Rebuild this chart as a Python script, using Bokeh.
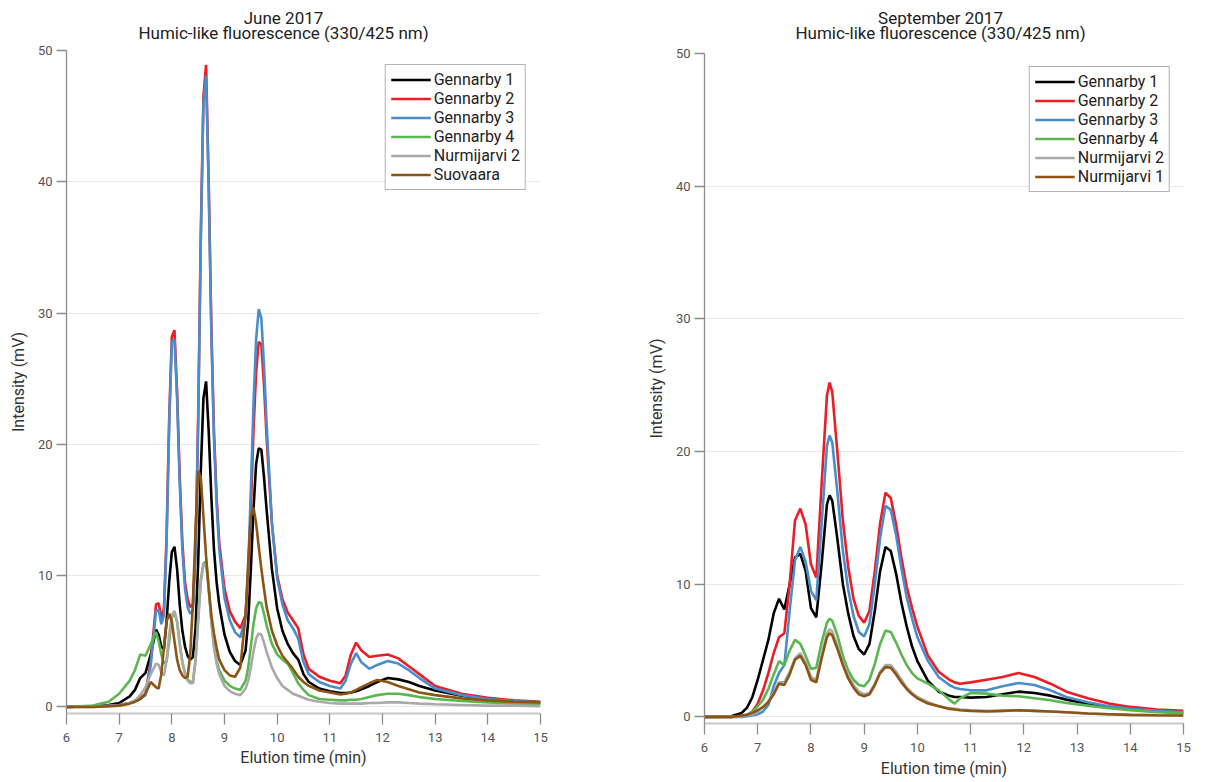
from bokeh.plotting import figure
from bokeh.layouts import row, column
from bokeh.models import Range1d, FixedTicker
from bokeh.core.properties import value
from bokeh.embed import file_html
from bokeh.resources import INLINE

FONT = "Roboto"

# ---------------- data: June 2017 ----------------
june_t = [6.0, 6.5, 6.8, 7.0, 7.2, 7.3, 7.4, 7.5, 7.6, 7.7,
          7.75, 7.8, 7.85, 7.9, 7.95, 8.0, 8.05, 8.1, 8.15, 8.2,
          8.25, 8.3, 8.35, 8.4, 8.45, 8.5, 8.55, 8.6, 8.65, 8.7,
          8.75, 8.8, 8.85, 8.9, 9.0, 9.1, 9.2, 9.3, 9.4, 9.45,
          9.5, 9.55, 9.6, 9.65, 9.7, 9.75, 9.8, 9.9, 10.0, 10.1,
          10.2, 10.3, 10.4, 10.5, 10.6, 10.8, 11.0, 11.2, 11.3, 11.4,
          11.5, 11.6, 11.75, 11.9, 12.1, 12.3, 12.5, 12.7, 13.0, 13.5,
          14.0, 14.5, 15.0]

june_gennarby1 = [0, 0.05, 0.15, 0.3, 0.8, 1.3, 2.2, 2.6, 4.0, 5.9,
                  5.5, 4.6, 4.4, 6.5, 9.5, 11.8, 12.2, 10.5, 7.8, 5.8,
                  4.6, 3.9, 3.6, 3.8, 6.0, 11, 18, 23.5, 24.8, 21,
                  16, 12, 9.5, 7.8, 5.5, 4.2, 3.5, 3.2, 4.3, 6.5,
                  10.5, 15, 18.5, 19.7, 19.6, 17.5, 15, 10.5, 7.5, 5.8,
                  4.8, 4.1, 3.6, 2.5, 1.9, 1.4, 1.2, 1.05, 1.05, 1.1,
                  1.2, 1.35, 1.6, 1.9, 2.2, 2.1, 1.9, 1.6, 1.25, 0.85,
                  0.6, 0.4, 0.3]
june_gennarby2 = [0, 0.05, 0.1, 0.15, 0.3, 0.45, 0.7, 1.0, 3.5, 7.8,
                  7.9, 6.8, 7.5, 13, 22, 28.2, 28.7, 24, 17.5, 12.5,
                  9.5, 8.2, 7.6, 7.8, 12, 22, 36, 46.5, 48.9, 40,
                  29, 21, 16, 12.5, 9.0, 7.3, 6.5, 6.0, 7.0, 10,
                  15, 21, 25.5, 27.8, 27.6, 24.5, 20.5, 14, 10, 8.2,
                  7.2, 6.6, 6.0, 4.0, 2.9, 2.3, 2.0, 1.8, 2.4, 4.0,
                  4.9, 4.3, 3.8, 3.9, 4.0, 3.7, 3.1, 2.5, 1.6, 1.0,
                  0.7, 0.5, 0.4]
june_gennarby3 = [0, 0.05, 0.1, 0.15, 0.3, 0.4, 0.6, 0.9, 3.2, 7.3,
                  7.4, 6.3, 7.0, 12.5, 21.5, 27.8, 28.0, 23.5, 17, 12,
                  9.0, 7.6, 7.1, 7.3, 11.5, 21.5, 35.5, 46, 48.1, 39.5,
                  28.5, 20.5, 15.5, 12, 8.3, 6.6, 5.7, 5.3, 6.8, 10.5,
                  16.5, 23, 28, 30.3, 29.6, 26, 21.5, 14, 9.8, 7.8,
                  6.6, 6.0, 5.2, 3.4, 2.5, 1.9, 1.6, 1.4, 2.0, 3.3,
                  4.1, 3.4, 2.9, 3.2, 3.5, 3.3, 2.8, 2.2, 1.4, 0.9,
                  0.6, 0.45, 0.35]
june_gennarby4 = [0, 0.1, 0.4, 1.0, 2.0, 2.8, 4.0, 3.9, 4.8, 5.7,
                  5.0, 4.0, 3.3, 3.5, 5.0, 6.8, 7.2, 6.5, 4.8, 3.4,
                  2.6, 2.1, 1.9, 1.9, 3.6, 6.8, 9.7, 10.9, 11.1, 9.2,
                  6.6, 4.7, 3.5, 2.8, 2.0, 1.6, 1.4, 1.3, 2.0, 3.0,
                  4.6, 6.3, 7.5, 8.0, 7.9, 7.1, 6.2, 4.8, 4.0, 3.6,
                  3.3, 2.6, 1.8, 1.3, 0.9, 0.6, 0.55, 0.5, 0.5, 0.55,
                  0.55, 0.6, 0.75, 0.9, 1.0, 1.0, 0.9, 0.75, 0.6, 0.45,
                  0.35, 0.25, 0.2]
june_nurmijarvi2 = [0, 0, 0.05, 0.1, 0.3, 0.5, 0.9, 1.5, 2.5, 3.3,
                    3.2, 2.6, 2.4, 3.5, 5.5, 7.0, 7.3, 6.5, 4.8, 3.4,
                    2.5, 2.0, 1.8, 1.8, 3.5, 6.5, 9.5, 10.8, 10.9, 9.0,
                    6.5, 4.5, 3.3, 2.5, 1.6, 1.2, 1.0, 0.9, 1.4, 2.0,
                    3.0, 4.2, 5.2, 5.6, 5.5, 4.9, 4.2, 3.0, 2.2, 1.6,
                    1.3, 1.0, 0.85, 0.7, 0.55, 0.4, 0.3, 0.25, 0.25, 0.25,
                    0.25, 0.25, 0.3, 0.3, 0.35, 0.35, 0.3, 0.25, 0.2, 0.15,
                    0.1, 0.1, 0.05]
june_suovaara = [0, 0, 0.05, 0.1, 0.25, 0.4, 0.6, 1.0, 1.9, 1.5,
                 1.4, 2.5, 4.5, 6.5, 7.1, 6.5, 5.0, 3.6, 2.8, 2.4,
                 2.2, 2.3, 4.0, 8.0, 13.5, 18.0, 17.5, 14.5, 11.5, 9.0,
                 7.0, 5.6, 4.5, 3.6, 2.8, 2.4, 2.3, 3.0, 7.0, 11.0,
                 14.5, 15.2, 14.0, 12.2, 10.5, 9.0, 7.6, 5.8, 4.7, 3.9,
                 3.4, 2.9, 2.3, 1.9, 1.6, 1.25, 1.1, 0.95, 1.0, 1.1,
                 1.3, 1.5, 1.8, 2.05, 1.9, 1.6, 1.35, 1.1, 0.9, 0.65,
                 0.5, 0.4, 0.35]

june_names = ["Gennarby 1", "Gennarby 2", "Gennarby 3", "Gennarby 4",
              "Nurmijarvi 2", "Suovaara"]
june_values = [june_gennarby1, june_gennarby2, june_gennarby3,
               june_gennarby4, june_nurmijarvi2, june_suovaara]

# ---------------- data: September 2017 ----------------
sep_t = [6.0, 6.5, 6.7, 6.8, 6.9, 7.0, 7.1, 7.2, 7.3, 7.4,
         7.5, 7.6, 7.7, 7.8, 7.9, 8.0, 8.1, 8.2, 8.3, 8.35,
         8.4, 8.5, 8.6, 8.7, 8.8, 8.9, 9.0, 9.1, 9.2, 9.3,
         9.4, 9.5, 9.6, 9.7, 9.8, 9.9, 10.0, 10.2, 10.4, 10.6,
         10.7, 10.8, 11.0, 11.3, 11.6, 11.9, 12.2, 12.5, 12.8, 13.2,
         13.6, 14.0, 14.5, 15.0]

sep_gennarby1 = [0, 0.05, 0.3, 0.7, 1.5, 2.8, 4.3, 5.8, 7.8, 8.9,
                 8.1, 10.0, 12.0, 12.3, 11.0, 8.2, 7.5, 11.5, 16.0, 16.7,
                 16.3, 13.3, 10.0, 7.8, 6.1, 5.1, 4.7, 5.5, 8.0, 11.0,
                 12.8, 12.5, 10.8, 8.6, 6.8, 5.3, 4.2, 2.7, 1.9, 1.6,
                 1.5, 1.5, 1.45, 1.5, 1.7, 1.9, 1.8, 1.6, 1.3, 1.0,
                 0.75, 0.55, 0.4, 0.3]
sep_gennarby2 = [0, 0, 0.05, 0.15, 0.4, 1.0, 2.0, 3.3, 4.8, 6.0,
                 6.3, 10.0, 14.8, 15.7, 14.5, 11.5, 10.5, 17.5, 24.2, 25.2,
                 24.5, 19.8, 14.8, 11.3, 8.9, 7.6, 7.1, 8.0, 11.0, 14.6,
                 16.9, 16.5, 14.5, 12.0, 9.8, 8.2, 6.8, 4.6, 3.4, 2.8,
                 2.6, 2.5, 2.6, 2.8, 3.0, 3.3, 3.0, 2.5, 1.9, 1.4,
                 1.0, 0.75, 0.55, 0.45]
sep_gennarby3 = [0, 0, 0, 0.05, 0.1, 0.2, 0.4, 0.9, 2.3, 3.3,
                 3.9, 8.0, 11.8, 12.8, 11.7, 9.5, 8.8, 14.5, 20.4, 21.2,
                 20.7, 16.8, 12.5, 9.6, 7.6, 6.4, 6.05, 7.0, 10.0, 13.5,
                 15.9, 15.6, 13.7, 11.2, 9.0, 7.4, 6.0, 4.2, 3.0, 2.4,
                 2.2, 2.1, 2.0, 2.0, 2.3, 2.55, 2.4, 2.0, 1.5, 1.1,
                 0.8, 0.6, 0.45, 0.35]
sep_gennarby4 = [0, 0, 0.05, 0.15, 0.4, 0.8, 1.3, 2.1, 3.2, 4.2,
                 3.9, 5.0, 5.8, 5.5, 4.6, 3.6, 3.7, 5.6, 7.1, 7.4,
                 7.25, 6.1, 4.6, 3.5, 2.8, 2.4, 2.3, 2.8, 4.0, 5.5,
                 6.5, 6.4, 5.6, 4.7, 3.9, 3.3, 2.9, 2.5, 2.0, 1.3,
                 1.0, 1.4, 1.8, 1.75, 1.6, 1.55, 1.4, 1.25, 1.05, 0.85,
                 0.65, 0.5, 0.35, 0.3]
sep_nurmijarvi2 = [0, 0, 0.05, 0.1, 0.2, 0.4, 0.7, 1.2, 1.8, 2.6,
                   2.6, 3.4, 4.4, 4.8, 4.1, 3.0, 2.8, 4.6, 6.3, 6.6,
                   6.45, 5.3, 4.1, 3.1, 2.4, 1.9, 1.7, 1.8, 2.5, 3.4,
                   3.9, 3.9, 3.4, 2.8, 2.2, 1.8, 1.5, 1.1, 0.8, 0.65,
                   0.6, 0.55, 0.5, 0.45, 0.45, 0.5, 0.45, 0.4, 0.35, 0.25,
                   0.2, 0.15, 0.12, 0.1]
sep_nurmijarvi1 = [0, 0, 0.1, 0.15, 0.3, 0.5, 0.75, 1.1, 1.7, 2.5,
                   2.4, 3.2, 4.3, 4.6, 3.9, 2.8, 2.6, 4.4, 6.0, 6.3,
                   6.15, 5.1, 3.9, 2.9, 2.2, 1.7, 1.55, 1.7, 2.4, 3.3,
                   3.75, 3.7, 3.2, 2.6, 2.1, 1.7, 1.4, 1.0, 0.8, 0.6,
                   0.55, 0.5, 0.45, 0.4, 0.45, 0.5, 0.45, 0.4, 0.35, 0.25,
                   0.2, 0.15, 0.12, 0.1]

sep_names = ["Gennarby 1", "Gennarby 2", "Gennarby 3", "Gennarby 4",
             "Nurmijarvi 2", "Nurmijarvi 1"]
sep_values = [sep_gennarby1, sep_gennarby2, sep_gennarby3,
              sep_gennarby4, sep_nurmijarvi2, sep_nurmijarvi1]

colors = ["#000000", "#ee1c25", "#4a8dcb", "#5ab750", "#a9a9a9", "#8c5514"]

x_ticks = [6, 7, 8, 9, 10, 11, 12, 13, 14, 15]
y_ticks = [0, 10, 20, 30, 40, 50]

X_START, X_END = 6, 15
Y_START, Y_END = -0.5, 50
TITLE_H = 42


def no_frame_align(p):
    if "frame_align" in p.properties():
        p.frame_align = False


def make_title(main_title, sub_title, width, bl, br, title_cx, main_cy, sub_cy):
    # a small strip above the chart holding the two centred title lines
    t = figure(width=width, height=TITLE_H, x_range=Range1d(X_START, X_END),
               y_range=Range1d(0, TITLE_H), output_backend="svg",
               toolbar_location=None, x_axis_type=None, y_axis_type=None,
               min_border_left=bl, min_border_right=br,
               min_border_top=0, min_border_bottom=0)
    t.outline_line_color = None
    t.xgrid.visible = False
    t.ygrid.visible = False
    no_frame_align(t)
    fw = width - bl - br
    tx = X_START + (title_cx - bl) / fw * (X_END - X_START)
    t.text(x=[tx, tx], y=[TITLE_H - main_cy, TITLE_H - sub_cy],
           text=[main_title, sub_title], text_align="center",
           text_baseline="middle", text_font=value(FONT),
           text_font_size=value("17px"), text_color="#222222")
    return t


def make_panel(t, values, names, width, height, bl, br, bt, bb, leg_margin,
               lab_standoff, axlab_standoff):
    p = figure(width=width, height=height, title=None,
               x_range=Range1d(X_START, X_END), y_range=Range1d(Y_START, Y_END),
               output_backend="svg", toolbar_location=None,
               min_border_left=bl, min_border_right=br,
               min_border_top=bt, min_border_bottom=bb)
    no_frame_align(p)
    p.outline_line_color = None
    p.background_fill_color = "white"
    p.border_fill_color = "white"

    for vals, name, col in zip(values, names, colors):
        p.line(t, vals, line_color=col, line_width=2.6, legend_label=name)

    p.xaxis.ticker = FixedTicker(ticks=x_ticks)
    p.yaxis.ticker = FixedTicker(ticks=y_ticks)
    p.xaxis.axis_label = "Elution time (min)"
    p.yaxis.axis_label = "Intensity (mV)"
    for ax in (p.xaxis[0], p.yaxis[0]):
        ax.axis_label_text_font = FONT
        ax.axis_label_text_font_size = "16px"
        ax.axis_label_text_font_style = "normal"
        ax.axis_label_text_color = "#333333"
        ax.major_label_text_font = FONT
        ax.major_label_text_font_size = "13px"
        ax.major_label_text_color = "#555555"
        ax.major_tick_in = 0
        ax.minor_tick_line_color = None
        ax.major_tick_line_color = "#8c8c8c"
        ax.major_tick_line_width = 1.3
    p.xaxis.axis_line_color = "#c8c8c8"
    p.xaxis.axis_line_width = 2
    p.yaxis.axis_line_color = "#8c8c8c"
    p.yaxis.axis_line_width = 1.3
    p.xaxis.major_tick_out = 11
    p.yaxis.major_tick_out = 10
    p.xaxis.major_label_standoff = lab_standoff
    p.yaxis.major_label_standoff = 4
    p.xaxis.axis_label_standoff = axlab_standoff
    p.yaxis.axis_label_standoff = 7

    p.xgrid.visible = False
    p.ygrid.grid_line_color = "#e8e8e8"
    p.ygrid.grid_line_width = 1

    leg = p.legend[0]
    leg.location = "top_right"
    leg.margin = leg_margin
    leg.padding = 5
    leg.spacing = 0
    leg.glyph_width = 40
    leg.glyph_height = 19
    leg.label_height = 19
    leg.label_standoff = 3
    leg.label_text_font = FONT
    leg.label_text_font_size = "16px"
    leg.label_text_color = "#222222"
    leg.border_line_color = "#666666"
    leg.border_line_width = 1
    leg.background_fill_color = "white"
    leg.background_fill_alpha = 1.0
    return p


LW, RW = 568, 629
PH = 782 - TITLE_H

left_title = make_title("June 2017", "Humic-like fluorescence (330/425 nm)",
                        LW, 66, 28, title_cx=283, main_cy=17, sub_cy=32)
left = make_panel(june_t, june_values, june_names,
                  width=LW, height=PH, bl=66, br=28, bt=50 - TITLE_H,
                  bb=782 - 713, leg_margin=14, lab_standoff=8, axlab_standoff=3)

right_title = make_title("September 2017", "Humic-like fluorescence (330/425 nm)",
                         RW, 136, 14, title_cx=372, main_cy=17, sub_cy=32)
right = make_panel(sep_t, sep_values, sep_names,
                   width=RW, height=PH, bl=136, br=14, bt=53 - TITLE_H,
                   bb=782 - 723, leg_margin=13, lab_standoff=8, axlab_standoff=4)

layout = row(column(left_title, left), column(right_title, right))
open("out.html", "w").write(file_html(layout, INLINE))
